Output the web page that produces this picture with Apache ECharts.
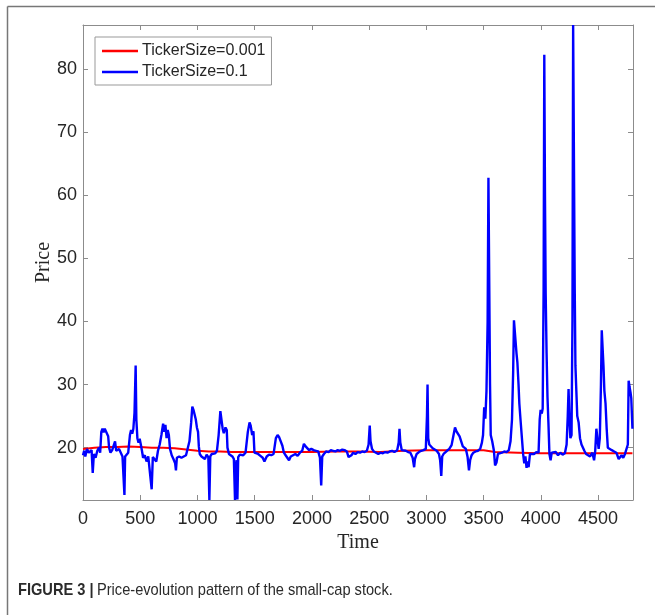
<!DOCTYPE html>
<html>
<head>
<meta charset="utf-8">
<script src="https://cdn.jsdelivr.net/npm/echarts@6/dist/echarts.min.js"></script>
<style>
html,body{margin:0;padding:0;background:#fff;}
#c{width:655px;height:615px;}
</style>
</head>
<body>
<div id="c"></div>
<script>
// ---- data ----
const xTicks = [0,500,1000,1500,2000,2500,3000,3500,4000,4500];
const yTicks = [20,30,40,50,60,70,80];

const redTime  = [0,100,200,300,400,500,600,700,800,900,1000,1100,1200,1300,1500,1800,2000,2200,2400,2600,2800,3000,3200,3400,3500,3600,3800,4000,4200,4400,4600,4800];
const redPrice = [19.8,20.0,20.1,20.1,20.2,20.1,20.0,20.0,19.9,19.7,19.5,19.4,19.4,19.3,19.3,19.3,19.3,19.4,19.4,19.3,19.5,19.6,19.6,19.6,19.6,19.3,19.2,19.1,19.1,19.1,19.1,19.1];

const blueTime = [0,10,20,35,50,60,75,85,95,110,125,140,150,160,170,180,190,200,210,220,228,240,255,270,280,290,300,315,330,345,355,362,368,380,395,410,420,430,440,450,460,466,475,485,495,505,515,525,540,555,570,585,600,610,625,640,655,670,685,700,710,720,730,740,750,760,775,790,805,812,820,840,860,880,900,915,930,945,955,965,975,985,995,1005,1012,1020,1035,1050,1065,1080,1095,1104,1112,1125,1140,1155,1170,1185,1200,1210,1220,1230,1245,1256,1262,1275,1290,1305,1318,1328,1335,1342,1349,1356,1370,1385,1400,1420,1440,1455,1465,1478,1489,1498,1510,1530,1550,1570,1585,1595,1605,1625,1645,1665,1685,1700,1715,1730,1742,1755,1770,1785,1800,1815,1835,1855,1875,1895,1915,1930,1945,1960,1975,1995,2015,2035,2055,2070,2081,2090,2105,2125,2145,2165,2185,2205,2225,2245,2265,2285,2305,2320,2330,2345,2360,2380,2400,2420,2440,2460,2480,2495,2505,2512,2525,2540,2560,2580,2600,2620,2640,2660,2680,2700,2720,2745,2758,2765,2772,2785,2800,2820,2840,2860,2880,2893,2900,2915,2935,2955,2975,2995,3005,3010,3016,3025,3040,3055,3070,3090,3110,3120,3130,3138,3150,3165,3180,3200,3220,3235,3250,3262,3275,3290,3305,3318,3330,3345,3360,3372,3382,3395,3410,3430,3450,3470,3485,3495,3505,3515,3525,3535,3542,3550,3556,3562,3575,3590,3600,3612,3625,3640,3660,3680,3700,3720,3735,3748,3758,3765,3780,3787,3795,3805,3812,3822,3835,3845,3855,3865,3875,3885,3893,3905,3920,3940,3960,3980,3990,3998,4008,4016,4024,4030,4036,4042,4050,4058,4066,4075,4085,4095,4110,4130,4150,4170,4190,4210,4225,4235,4242,4250,4258,4268,4276,4282,4290,4296,4302,4310,4318,4330,4342,4355,4370,4380,4395,4410,4430,4450,4465,4475,4485,4490,4497,4505,4515,4525,4532,4540,4547,4555,4565,4575,4585,4600,4620,4640,4660,4672,4680,4690,4705,4720,4735,4750,4760,4767,4775,4783,4790,4796,4800];
const bluePrice = [18.8,19.5,18.6,19.8,19.2,18.9,19.6,16.0,19.0,18.4,19.5,20.0,19.2,22.5,23.0,22.4,23.0,22.6,22.8,21.8,20.0,19.2,19.6,19.8,21.0,19.5,19.2,19.8,19.5,18.6,18.4,12.5,18.6,18.8,19.2,22.0,22.8,22.2,23.0,25.5,33.0,24.5,21.5,20.8,21.4,20.5,19.5,18.4,18.8,17.8,18.6,18.3,13.4,18.5,18.2,17.8,19.5,20.5,22.0,23.8,22.5,23.6,21.5,22.8,22.0,19.8,18.8,18.2,17.5,16.4,18.4,18.6,18.4,18.6,18.8,19.0,21.0,24.0,26.5,26.0,26.2,24.5,23.2,22.5,20.2,19.0,18.6,18.8,18.2,18.9,18.5,11.7,18.6,19.0,18.8,19.1,19.5,22.0,25.8,25.6,23.0,22.3,23.2,22.8,20.0,19.0,18.8,18.6,18.2,11.7,17.0,18.0,11.8,18.5,18.9,19.0,18.8,19.2,22.5,24.0,23.5,22.0,22.6,19.2,18.9,19.0,18.7,18.4,17.8,17.6,18.6,18.9,18.8,19.0,21.5,22.0,21.6,21.8,20.3,19.2,18.8,18.9,18.0,18.6,18.8,19.0,18.7,19.2,19.5,20.6,20.2,20.0,19.6,19.8,19.6,19.5,19.4,18.4,14.0,18.6,19.0,19.4,19.3,19.6,19.5,19.4,19.6,19.5,19.7,19.6,19.4,18.5,18.2,18.8,19.2,19.0,19.3,19.2,19.4,19.3,19.5,20.5,23.5,21.0,19.8,19.4,19.2,19.0,19.2,19.1,19.3,19.2,19.4,19.5,19.3,19.6,20.8,23.0,20.8,19.6,19.4,19.5,19.3,19.2,18.4,16.9,18.2,19.0,19.3,19.5,19.6,19.8,25.0,30.0,21.5,20.5,20.8,19.9,19.6,19.5,19.0,18.0,15.5,18.6,19.0,19.2,19.5,19.8,20.4,21.8,23.2,22.6,22.8,21.8,21.5,20.2,20.0,19.8,18.5,16.4,18.0,18.8,19.2,19.4,19.5,19.8,20.8,22.0,26.4,24.6,29.0,40.0,62.8,62.6,30.0,22.0,21.0,19.5,17.2,17.6,19.0,19.3,19.2,19.4,19.3,19.6,21.0,24.5,32.0,40.2,40.2,35.0,33.5,30.0,27.0,24.5,21.4,19.0,17.5,18.6,16.8,17.8,16.9,19.0,19.2,19.0,19.3,19.2,24.5,26.0,25.4,26.2,45.0,82.3,60.0,44.5,35.0,28.0,24.0,19.0,18.0,19.2,19.0,19.3,18.8,19.2,18.9,19.1,20.5,25.0,29.3,24.5,21.5,22.0,40.0,87.0,87.0,45.0,33.0,29.0,25.0,24.0,21.5,20.5,20.3,19.5,19.0,19.2,18.6,19.2,18.0,19.5,23.0,23.3,21.0,19.8,21.5,30.0,38.6,38.4,33.0,29.0,27.0,23.0,20.0,19.8,19.6,19.4,19.2,18.6,18.2,18.5,18.8,18.4,19.0,18.8,20.5,30.6,29.6,28.8,27.8,25.0,23.0];

const X_MIN = 0, X_MAX = 4805, Y_MIN = 11.7, Y_MAX = 87;

const zip = (a, b) => a.map((v, i) => [v, b[i]]);

const chart = echarts.init(document.getElementById('c'), null, {renderer: 'canvas'});
const axisGray = '#8c8c8c';
const labelCol = '#262626';
const sans = 'Liberation Sans, Arial, sans-serif';
const serif = 'Liberation Serif, Times New Roman, serif';

const baseX = {
  type: 'value', min: X_MIN, max: X_MAX,
  axisLine: {show: true, onZero: false, lineStyle: {color: axisGray, width: 1}},
  axisTick: {show: true, inside: true, length: 5, customValues: xTicks, lineStyle: {color: axisGray}},
  splitLine: {show: false}
};
const baseY = {
  type: 'value', min: Y_MIN, max: Y_MAX,
  axisLine: {show: true, onZero: false, lineStyle: {color: axisGray, width: 1}},
  axisTick: {show: true, inside: true, length: 5, customValues: yTicks, lineStyle: {color: axisGray}},
  splitLine: {show: false}
};

chart.setOption({
  animation: false,
  backgroundColor: '#fff',
  grid: {left: 83, right: 22, top: 25, bottom: 115, containLabel: false},
  legend: {
    left: 95, top: 37, orient: 'vertical',
    data: ['TickerSize=0.001', 'TickerSize=0.1'],
    icon: 'rect', itemWidth: 36, itemHeight: 2.5, itemGap: 5,
    padding: [6, 6, 5, 7],
    borderColor: '#999', borderWidth: 1, backgroundColor: '#fff',
    textStyle: {fontFamily: sans, fontSize: 16, color: labelCol, padding: [0, 0, 0, -1]}
  },
  xAxis: [
    Object.assign({}, baseX, {
      position: 'bottom',
      name: 'Time', nameLocation: 'middle', nameGap: 33, nameMoveOverlap: false,
      nameTextStyle: {fontFamily: serif, fontSize: 20, color: labelCol},
      axisLabel: {customValues: xTicks, formatter: v => String(v), fontFamily: sans, fontSize: 18, color: labelCol, margin: 10}
    }),
    Object.assign({}, baseX, {position: 'top', axisLabel: {show: false}})
  ],
  yAxis: [
    Object.assign({}, baseY, {
      position: 'left',
      name: 'Price', nameLocation: 'middle', nameGap: 29, nameMoveOverlap: false,
      nameTextStyle: {fontFamily: serif, fontSize: 20, color: labelCol},
      axisLabel: {customValues: yTicks, formatter: v => String(v), fontFamily: sans, fontSize: 18, color: labelCol, margin: 6}
    }),
    Object.assign({}, baseY, {position: 'right', axisLabel: {show: false}})
  ],
  series: [
    {
      name: 'TickerSize=0.001', type: 'line', xAxisIndex: 0, yAxisIndex: 0,
      data: zip(redTime, redPrice), showSymbol: false, symbol: 'none',
      lineStyle: {color: '#ff0000', width: 2}, itemStyle: {color: '#ff0000'}, z: 2
    },
    {
      name: 'TickerSize=0.1', type: 'line', xAxisIndex: 0, yAxisIndex: 0,
      data: zip(blueTime, bluePrice), showSymbol: false, symbol: 'none',
      lineStyle: {color: '#0000ff', width: 2.4}, itemStyle: {color: '#0000ff'}, z: 3,
      clip: true
    }
  ],
  graphic: [
    {type: 'line', shape: {x1: 7.5, y1: 6.5, x2: 655, y2: 6.5}, style: {stroke: '#777', lineWidth: 1.5}},
    {type: 'line', shape: {x1: 7.5, y1: 6.5, x2: 7.5, y2: 615}, style: {stroke: '#777', lineWidth: 1.5}},
    {type: 'text', left: 18, top: 582,
      style: {text: 'FIGURE 3 |', font: 'bold 17px ' + sans, fill: '#2b2b2b'}, scaleX: 0.86},
    {type: 'text', left: 97, top: 582,
      style: {text: 'Price-evolution pattern of the small-cap stock.', font: '17px ' + sans, fill: '#2b2b2b'}, scaleX: 0.86}
  ]
});
</script>
</body>
</html>
